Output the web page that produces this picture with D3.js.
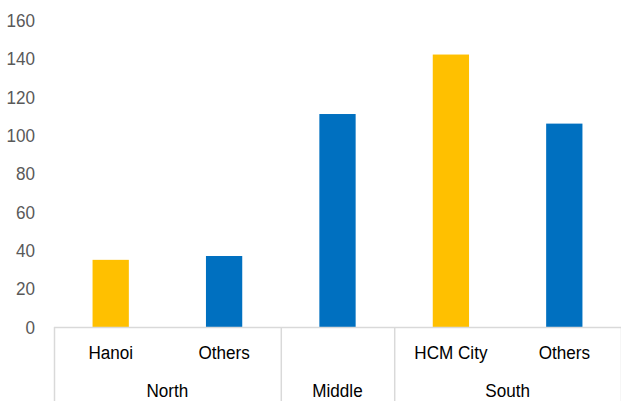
<!DOCTYPE html>
<html><head><meta charset="utf-8">
<script src="https://cdn.jsdelivr.net/npm/d3@7"></script>
<style>body{margin:0;background:#fff}svg{display:block}</style>
</head><body>
<svg id="c" width="621" height="401"></svg>
<script>
const categories = ["Hanoi","Others","","HCM City","Others"];
const groups = ["North","North","Middle","South","South"];
const values = [35, 37, 111, 142, 106];
const colors = ["#FFC000","#0070C0","#0070C0","#FFC000","#0070C0"];
const yTicks = [0,20,40,60,80,100,120,140,160];
const groupSpans = [{name:"North",start:0,end:2},{name:"Middle",start:2,end:3},{name:"South",start:3,end:5}];

(function(){
const svg = d3.select("#c");
const font = "'Liberation Sans',Arial,sans-serif";
const sx = 0.9;
const mLeft = 54, mRight = 621, base = 327, mTop = 20;
const idx = d3.range(categories.length);
const x = d3.scaleBand().domain(idx).range([mLeft, mRight]).paddingInner(0).paddingOuter(0);
const y = d3.scaleLinear().domain([0,160]).range([base, mTop]);
const bw = x.bandwidth()*0.32;

svg.selectAll("rect.bar").data(idx).enter().append("rect")
  .attr("x", i => x(i) + x.bandwidth()/2 - bw/2)
  .attr("y", i => y(values[i]))
  .attr("width", bw)
  .attr("height", i => y(0) - y(values[i]))
  .attr("fill", i => colors[i]);

function label(px, py, txt, anchor, fill){
  svg.append("text")
    .attr("transform", `translate(${px},${py}) scale(${sx},1)`)
    .attr("dy","0.36em").attr("text-anchor",anchor)
    .attr("font-family",font).attr("font-size",19).attr("fill",fill).text(txt);
}

yTicks.forEach(d => label(35, y(d), d, "end", "#595959"));

svg.append("line").attr("x1",mLeft).attr("x2",mRight).attr("y1",base+0.5).attr("y2",base+0.5)
  .attr("stroke","#d9d9d9").attr("stroke-width",1.5);

const divs = [0,2,3,5];
svg.selectAll("line.div").data(divs).enter().append("line")
  .attr("x1", d => (d<5 ? x(d) : mRight) + 0.5).attr("x2", d => (d<5 ? x(d) : mRight) + 0.5)
  .attr("y1", base).attr("y2", 401)
  .attr("stroke","#d9d9d9").attr("stroke-width",1.5);

idx.forEach(i => { if (categories[i]) label(x(i)+x.bandwidth()/2, 352, categories[i], "middle", "#000"); });

groupSpans.forEach(g => label((x(g.start) + (g.end<5 ? x(g.end) : mRight))/2, 390, g.name, "middle", "#000"));
})();
</script>
</body></html>
